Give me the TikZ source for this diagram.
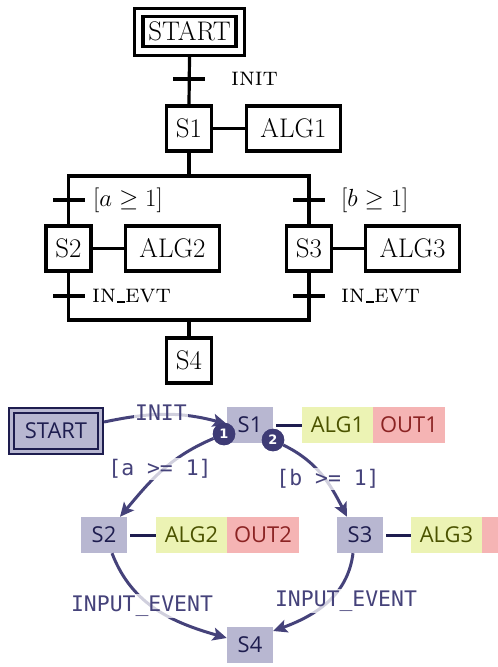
\documentclass[tikz,border=0pt]{standalone}
\usepackage{fontspec}
\newfontfamily\monof{DejaVu Sans Mono}
\newfontfamily\boxf{Open Sans}
\newfontfamily\badgef{DejaVu Sans}
\usetikzlibrary{arrows.meta}
\definecolor{lav}{HTML}{B8B7D1}
\definecolor{navy}{HTML}{1E1D4F}
\definecolor{edgec}{HTML}{45427A}
\definecolor{algfill}{HTML}{ECF3B4}
\definecolor{algtext}{HTML}{4B5300}
\definecolor{outfill}{HTML}{F5B4B4}
\definecolor{outtext}{HTML}{8B2323}
\definecolor{badgec}{HTML}{3E3B75}
\newcommand{\myunderscore}{\kern.06em\rule{.3em}{1.3bp}}
\begin{document}
\begin{tikzpicture}[x=1bp,y=1bp,
  gline/.style={line width=3.2bp, black},
  gbox/.style={draw=black, line width=3.2bp, inner sep=0pt, minimum height=45bp, font=\fontsize{27}{30}\selectfont},
  glabel/.style={anchor=west, inner sep=0pt, font=\fontsize{26}{28}\selectfont},
  monofont/.style={font=\monof\fontsize{21.5}{24}\selectfont},
  boxfont/.style={font=\boxf\fontsize{22}{24}\selectfont},
  sbox/.style={boxfont, fill=lav, text=navy, minimum width=46bp, minimum height=36bp, inner sep=0pt},
  algbox/.style={boxfont, fill=algfill, text=algtext, minimum width=71bp, minimum height=36bp, inner sep=0pt},
  outbox/.style={boxfont, fill=outfill, text=outtext, minimum width=72bp, minimum height=36bp, inner sep=0pt},
  alink/.style={navy, line width=3bp, shorten <=3bp},
  trans/.style={edgec, line width=3bp, -{Stealth[length=14bp,width=13bp,inset=3bp]}},
  tlabel/.style={monofont, text=edgec, fill=white, fill opacity=0.75, text opacity=1, inner sep=1.5bp},
  badge/.style={circle, fill=badgec, text=white, minimum size=22.5bp, inner sep=0pt, font=\badgef\bfseries\fontsize{13}{13}\selectfont}
]
\useasboundingbox (0,0) rectangle (498,-667);

% ---------------- top diagram ----------------
\node[draw, line width=3.2bp, minimum width=110bp, minimum height=47bp] (startT) at (189.5,-32) {};
\node[draw, line width=3.2bp, inner sep=0pt, minimum width=93bp, minimum height=30bp, font=\fontsize{27}{30}\selectfont] (startTi) at (189.5,-31.5) {START};

\node[gbox, minimum width=45bp] (s1) at (189,-128.5) {S1};
\node[gbox, minimum width=94bp] (alg1) at (293.5,-128.5) {ALG1};
\node[gbox, minimum width=45bp] (s2) at (68.5,-248.5) {S2};
\node[gbox, minimum width=94bp] (alg2) at (172.5,-248.5) {ALG2};
\node[gbox, minimum width=45bp] (s3) at (309,-248.5) {S3};
\node[gbox, minimum width=94bp] (alg3) at (412.5,-248.5) {ALG3};
\node[gbox, minimum width=45bp] (s4) at (189,-360.5) {S4};

\coordinate (jt) at (189,-176);
\coordinate (jl) at (68.5,-176);
\coordinate (jr) at (309,-176);
\coordinate (jbl) at (68.5,-320);
\coordinate (jbr) at (309,-320);
\coordinate (jb) at (189,-320);
\coordinate (tia) at (173,-79);  \coordinate (tib) at (205,-79);
\coordinate (taa) at (53,-200);  \coordinate (tab) at (84.5,-200);
\coordinate (tba) at (293,-200); \coordinate (tbb) at (325,-200);
\coordinate (tca) at (53,-296);  \coordinate (tcb) at (84.5,-296);
\coordinate (tda) at (293,-296); \coordinate (tdb) at (325,-296);

\draw[gline] (startT.south) -- (s1.north);
\draw[gline] (s1.east) -- (alg1.west);
\draw[gline] (s2.east) -- (alg2.west);
\draw[gline] (s3.east) -- (alg3.west);
\draw[gline] (s1.south) -- (jt);
\draw[gline] (s2.north) -- (jl) -- (jr) -- (s3.north);
\draw[gline] (s2.south) -- (jbl) -- (jbr) -- (s3.south);
\draw[gline] (jb) -- (s4.north);
\draw[gline] (tia) -- (tib);
\draw[gline] (taa) -- (tab);
\draw[gline] (tba) -- (tbb);
\draw[gline] (tca) -- (tcb);
\draw[gline] (tda) -- (tdb);

\node[glabel] (linit) at (231,-79) {\textsc{init}};
\node[glabel] (la) at (93,-200) {$[a \geq 1]$};
\node[glabel] (lb) at (341,-200) {$[b \geq 1]$};
\node[glabel] (lc) at (92,-296) {\textsc{in}\myunderscore\textsc{evt}};
\node[glabel] (ld) at (341,-296) {\textsc{in}\myunderscore\textsc{evt}};

% ---------------- bottom diagram ----------------
\node[fill=lav, draw=navy, line width=1.6bp, minimum width=94.5bp, minimum height=46.5bp] (startB) at (56,-431) {};
\node[draw=navy, line width=1.6bp, minimum width=84.5bp, minimum height=36.5bp, inner sep=0pt, text=navy, boxfont] (startBi) at (56,-431) {START};

\node[sbox] (s1b) at (250,-425) {S1};
\node[algbox] (alg1b) at (337.5,-425) {ALG1};
\node[outbox] (out1b) at (409,-425) {OUT1};
\node[sbox] (s2b) at (104,-535) {S2};
\node[algbox] (alg2b) at (191.5,-535) {ALG2};
\node[outbox] (out2b) at (263,-535) {OUT2};
\node[sbox] (s3b) at (360,-535) {S3};
\node[algbox] (alg3b) at (446.5,-535) {ALG3};
\fill[outfill] (482,-517) rectangle (498,-553);
\node[sbox] (s4b) at (250,-645) {S4};

\draw[alink] (s1b.east) -- (alg1b.west);
\draw[alink] (s2b.east) -- (alg2b.west);
\draw[alink] (s3b.east) -- (alg3b.west);

\node[badge] (bd1) at (224,-434) {1};
\node[badge] (bd2) at (273,-440) {2};

\draw[trans] ([yshift=9bp]startB.east) to[out=12, in=165] ([yshift=1bp]s1b.west);
\draw[trans] (bd1) to[out=203, in=50] ([xshift=16bp]s2b.north);
\draw[trans] (bd2) to[out=-26, in=117] ([xshift=-13bp]s3b.north);
\draw[trans] ([xshift=8bp]s2b.south) to[out=-69, in=164] ([yshift=7bp]s4b.west);
\draw[trans] ([xshift=-7bp]s3b.south) to[out=-97, in=20] ([yshift=14bp]s4b.east);

\node[tlabel] (lbinit) at (161,-413) {INIT};
\node[tlabel] (lba) at (160,-469) {[a >= 1]};
\node[tlabel] (lbb) at (328,-479) {[b >= 1]};
\node[tlabel] (lbc) at (142,-606) {INPUT\_EVENT};
\node[tlabel] (lbd) at (346,-601) {INPUT\_EVENT};

\node[badge] at (bd1) {1};
\node[badge] at (bd2) {2};
\end{tikzpicture}
\end{document}
